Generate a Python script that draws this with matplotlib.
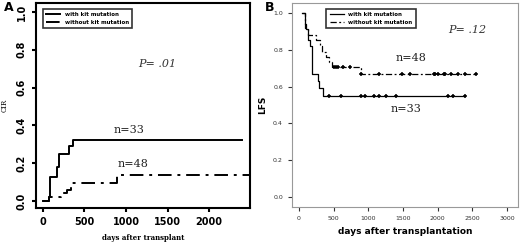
import matplotlib
matplotlib.use('Agg')
import matplotlib.pyplot as plt

# panel A: cumulative incidence of relapse (step values)
a_kit_days = [0, 69, 89, 169, 200, 310, 363, 2395]
a_kit_cir = [0.0, 0.02, 0.126, 0.18, 0.247, 0.29, 0.323, 0.323]
a_nokit_days = [0, 69, 222, 290, 343, 895, 2500]
a_nokit_cir = [0.0, 0.021, 0.042, 0.06, 0.095, 0.139, 0.139]

# panel B: leukemia-free survival
b_kit_days = [48, 80, 106, 130, 160, 190, 274, 290, 346, 2400]
b_kit_lfs = [1.0, 0.94, 0.91, 0.85, 0.82, 0.667, 0.63, 0.59, 0.551, 0.551]
b_kit_cens = [430, 600, 890, 950, 1080, 1160, 1250, 1400, 2150, 2220, 2400]
b_nokit_days = [48, 80, 130, 250, 300, 330, 390, 440, 470, 900, 2550]
b_nokit_lfs = [1.0, 0.92, 0.88, 0.855, 0.82, 0.79, 0.76, 0.733, 0.707, 0.667, 0.667]
b_nokit_cens = [510, 540, 570, 640, 730, 900, 1150, 1480, 1600, 1950, 1970, 2000,
                2100, 2110, 2200, 2300, 2400, 2550]

def lfs_at(days, vals, t):
    v = vals[0]
    for d, y in zip(days, vals):
        if d <= t:
            v = y
    return v

fig = plt.figure(figsize=(5.2, 2.43), dpi=100)

# ---------------- panel A
ax = fig.add_axes([0.069, 0.144, 0.412, 0.844])
ax.step(a_kit_days, a_kit_cir, where='post', color='k', lw=1.4, label='with kit mutation')
ax.step(a_nokit_days, a_nokit_cir, where='post', color='k', lw=1.4,
        dashes=(7, 3, 1.5, 3), label='without kit mutation')
ax.set_xlim(-84, 2494)
ax.set_ylim(-0.037, 1.048)
ax.set_xticks([0, 500, 1000, 1500, 2000])
ax.set_yticks([0.0, 0.2, 0.4, 0.6, 0.8, 1.0])
ax.set_yticklabels(['0.0', '0.2', '0.4', '0.6', '0.8', '1.0'], rotation=90, va='center')
ax.tick_params(labelsize=7, width=1.5, length=3)
for lab in ax.get_xticklabels() + ax.get_yticklabels():
    lab.set_fontweight('bold')
for s in ax.spines.values():
    s.set_linewidth(1.5)
ax.set_xlabel('days after transplant', fontsize=5, family='serif', fontweight='bold', labelpad=5)
ax.set_ylabel('CIR', fontsize=5, family='serif', labelpad=6)
leg = ax.legend(loc='upper left', bbox_to_anchor=(0.02, 0.985), fancybox=False,
                edgecolor='k', handlelength=2.5, borderpad=0.6,
                prop={'size': 4, 'weight': 'bold'})
leg.get_frame().set_linewidth(1.2)
ax.text(1150, 0.71, 'P= .01', fontsize=8, family='serif', style='italic', color='#333333')
ax.text(850, 0.36, 'n=33', fontsize=8, family='serif', color='#222222')
ax.text(900, 0.18, 'n=48', fontsize=8, family='serif', color='#222222')
fig.text(0.008, 0.955, 'A', fontsize=9, fontweight='bold')

# ---------------- panel B
bx = fig.add_axes([0.5615, 0.148, 0.4345, 0.84])
bx.step(b_kit_days, b_kit_lfs, where='post', color='k', lw=0.9, label='with kit mutation')
bx.step(b_nokit_days, b_nokit_lfs, where='post', color='k', lw=0.9,
        dashes=(5, 2, 1.5, 2), label='without kit mutation')
bx.plot(b_kit_cens, [lfs_at(b_kit_days, b_kit_lfs, t) for t in b_kit_cens],
        ls='none', marker='+', ms=3, mew=1.1, color='k')
bx.plot(b_nokit_cens, [lfs_at(b_nokit_days, b_nokit_lfs, t) for t in b_nokit_cens],
        ls='none', marker='+', ms=3, mew=1.1, color='k')
bx.set_xlim(-101, 3160)
bx.set_ylim(-0.054, 1.054)
bx.set_xticks([0, 500, 1000, 1500, 2000, 2500, 3000])
bx.set_yticks([0.0, 0.2, 0.4, 0.6, 0.8, 1.0])
bx.set_yticklabels(['0.0', '0.2', '0.4', '0.6', '0.8', '1.0'])
bx.tick_params(labelsize=4.5, width=0.8, length=3, colors='#333333')
for s in bx.spines.values():
    s.set_color('#999999')
    s.set_linewidth(0.8)
bx.set_xlabel('days after transplantation', fontsize=6.5, fontweight='bold', labelpad=4)
bx.set_ylabel('LFS', fontsize=6.5, fontweight='bold', labelpad=4)
leg2 = bx.legend(loc='upper left', bbox_to_anchor=(0.14, 0.985), fancybox=False,
                 edgecolor='k', handlelength=2.5, borderpad=0.6,
                 prop={'size': 4, 'weight': 'bold'})
leg2.get_frame().set_linewidth(1.2)
bx.text(2150, 0.89, 'P= .12', fontsize=8, family='serif', style='italic', color='#333333')
bx.text(1400, 0.74, 'n=48', fontsize=8, family='serif', color='#222222')
bx.text(1320, 0.46, 'n=33', fontsize=8, family='serif', color='#222222')
fig.text(0.51, 0.955, 'B', fontsize=9, fontweight='bold')

fig.savefig('out.png', dpi=100)
